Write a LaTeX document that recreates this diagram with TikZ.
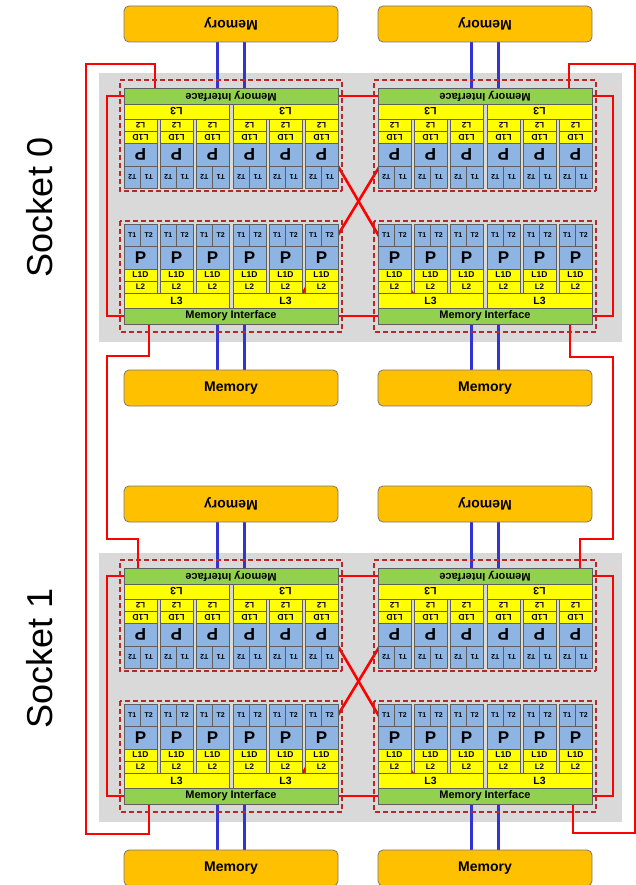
\documentclass[tikz,border=0pt]{standalone}
\usepackage{fontspec}
\setmainfont{Liberation Sans}
\usetikzlibrary{calc}
\pgfdeclarelayer{bgl}
\pgfdeclarelayer{wires}
\pgfsetlayers{bgl,wires,main}
\definecolor{bggray}{RGB}{217,217,217}
\definecolor{coreblue}{RGB}{141,180,226}
\definecolor{cacheyellow}{RGB}{255,255,0}
\definecolor{migreen}{RGB}{146,208,80}
\definecolor{memorange}{RGB}{255,192,0}
\definecolor{cellborder}{RGB}{95,95,95}
\definecolor{memborder}{RGB}{120,120,120}
\definecolor{linkred}{RGB}{255,0,0}
\definecolor{busblue}{RGB}{51,51,210}
\definecolor{framered}{RGB}{185,40,40}
\tikzset{
  cell/.style={draw=cellborder, line width=0.7pt, inner sep=0pt, outer sep=0pt, text=black},
  tcell/.style={cell, fill=coreblue, minimum width=16.5pt, minimum height=22pt, font=\fontsize{7}{7}\selectfont\bfseries},
  pcell/.style={cell, fill=coreblue, minimum width=33pt, minimum height=23pt, font=\fontsize{17}{17}\selectfont\bfseries},
  lonecell/.style={cell, fill=cacheyellow, minimum width=33pt, minimum height=12pt, font=\fontsize{8.5}{8.5}\selectfont\bfseries},
  ltwocell/.style={cell, fill=cacheyellow, minimum width=33pt, minimum height=12pt, font=\fontsize{8}{8}\selectfont\bfseries},
  lthreecell/.style={cell, fill=cacheyellow, minimum width=105pt, minimum height=15pt, font=\fontsize{10.5}{10.5}\selectfont\bfseries},
  micell/.style={cell, fill=migreen, minimum width=214pt, minimum height=16pt, font=\fontsize{11}{11}\selectfont\bfseries},
  chipframe/.style={draw=framered, line width=1.3pt, dash pattern=on 5pt off 3pt},
  membox/.style={draw=memborder, line width=0.8pt, fill=memorange, rounded corners=5pt, minimum width=214pt, minimum height=36pt, inner sep=0pt, font=\fontsize{14}{14}\selectfont\bfseries},
  socklabel/.style={font=\fontsize{36}{36}\selectfont, inner sep=0pt},
  link/.style={draw=linkred, line width=2.6pt},
  bus/.style={draw=busblue, line width=2.5pt},
}
\newcommand\drawchip[4]{%
  \begin{scope}[shift={(#2,#3)}, rotate=#4, transform shape]
    \draw[chipframe] (-111,-53) rectangle (111,58);
    \foreach \xx [count=\i] in {-90.5,-54.5,-18.5,18.5,54.5,90.5} {
      \node[tcell, name=#1-c\i-ta] at (\xx-8.25,-39) {T1};
      \node[tcell, name=#1-c\i-tb] at (\xx+8.25,-39) {T2};
      \node[pcell, name=#1-c\i-p] at (\xx,-16.5) {P};
      \node[lonecell, name=#1-c\i-lone] at (\xx,1) {L1D};
      \node[ltwocell, name=#1-c\i-ltwo] at (\xx,13) {L2};
    }
    \node[lthreecell, name=#1-lthreea] at (-54.5,26.5) {L3};
    \node[lthreecell, name=#1-lthreeb] at (54.5,26.5) {L3};
    \node[micell, name=#1-mi] at (0,42) {Memory Interface};
  \end{scope}}
\begin{document}
\begin{tikzpicture}[x=1pt,y=-1pt]
\useasboundingbox (0,0) rectangle (636,885);
\begin{pgfonlayer}{bgl}
  \fill[white] (0,0) rectangle (636,885);
  \fill[bggray] (99,73) rectangle (622,342);
  \fill[bggray] (99,553) rectangle (622,822);
\end{pgfonlayer}

% chips
\drawchip{ul0}{231}{138}{180}
\drawchip{ur0}{485}{138}{180}
\drawchip{ll0}{231}{274}{0}
\drawchip{lr0}{485}{274}{0}
\drawchip{ul1}{231}{618}{180}
\drawchip{ur1}{485}{618}{180}
\drawchip{ll1}{231}{754}{0}
\drawchip{lr1}{485}{754}{0}

% memories
\node[membox, rotate=180] (mem-ul0) at (231,24) {Memory};
\node[membox, rotate=180] (mem-ur0) at (485,24) {Memory};
\node[membox] (mem-ll0) at (231,388) {Memory};
\node[membox] (mem-lr0) at (485,388) {Memory};
\node[membox, rotate=180] (mem-ul1) at (231,504) {Memory};
\node[membox, rotate=180] (mem-ur1) at (485,504) {Memory};
\node[membox] (mem-ll1) at (231,868) {Memory};
\node[membox] (mem-lr1) at (485,868) {Memory};

% socket labels
\node[socklabel, rotate=90] (lab0) at (40,207) {Socket 0};
\node[socklabel, rotate=90] (lab1) at (40,658) {Socket 1};

\begin{pgfonlayer}{wires}
  \foreach \s in {0,1} {
    \foreach \q in {ul,ur,ll,lr} {
      \draw[bus] ($(mem-\q\s.center)+(-13.5,0)$) -- ($(\q\s-mi.center)+(-13.5,0)$);
      \draw[bus] ($(mem-\q\s.center)+(13.5,0)$) -- ($(\q\s-mi.center)+(13.5,0)$);
    }
    \draw[link] (ul\s-mi.center) -- ++(-124,0) |- (ll\s-mi.center);
    \draw[link] (ur\s-mi.center) -- ++(128,0) |- (lr\s-mi.center);
    \draw[link] (ul\s-mi.center) -- (ur\s-mi.center);
    \draw[link] (ll\s-mi.center) -- (lr\s-mi.center);
    \draw[link] ($(ul\s-mi.center)+(104,65)$) -- ($(lr\s-mi.center)+(-71,-20)$);
    \draw[link] ($(ur\s-mi.center)+(-104,68)$) -- ($(ll\s-mi.center)+(70,-20)$);
  }
  \draw[link] ($(ul0-mi.center)+(-76,0)$) -- ++(0,-32) -- ++(-69,0) |- ($(ll1-mi.center)+(-82,38)$) -- ($(ll1-mi.center)+(-82,0)$);
  \draw[link] ($(ll0-mi.center)+(-82,0)$) -- ++(0,40) -- ++(-42,0) |- ($(ul1-mi.center)+(-93,-37)$) -- ($(ul1-mi.center)+(-93,0)$);
  \draw[link] ($(ur0-mi.center)+(84,0)$) -- ++(0,-32) -- ++(66,0) |- ($(lr1-mi.center)+(88,37)$) -- ($(lr1-mi.center)+(88,0)$);
  \draw[link] ($(lr0-mi.center)+(85,0)$) -- ++(0,41) -- ++(43,0) |- ($(ur1-mi.center)+(95,-37)$) -- ($(ur1-mi.center)+(95,0)$);
\end{pgfonlayer}
\end{tikzpicture}
\end{document}
